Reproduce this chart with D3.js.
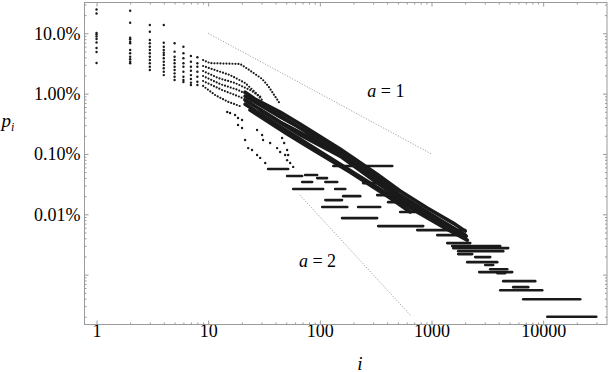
<!DOCTYPE html>
<html>
<head>
<meta charset="utf-8">
<script src="https://cdn.jsdelivr.net/npm/d3@7"></script>
<style>
	body { margin: 0; background: #fff; }
	svg { display: block; font-family: 'Liberation Serif', 'Times New Roman', serif; }
</style>
</head>
<body>
<svg id="chart" width="608" height="372"></svg>
<script>
// Rangs 1..8 : une colonne de points par rang (p en fraction)
const firstRanks = [1, 2, 3, 4, 5, 6, 7, 8];
const firstColumns = [
	[0.248, 0.213, 0.101, 0.0955, 0.0885, 0.0804, 0.0703, 0.057, 0.049, 0.0321],
	[0.237, 0.15, 0.0845, 0.0795, 0.0726, 0.0683, 0.0528, 0.0466, 0.0409, 0.0371, 0.0338, 0.0318],
	[0.137, 0.106, 0.0774, 0.0683, 0.06, 0.0528, 0.0466, 0.0409, 0.036, 0.0318, 0.0279, 0.0246],
	[0.137, 0.0698, 0.06, 0.0528, 0.0477, 0.0437, 0.0385, 0.0338, 0.0298, 0.0263, 0.0231, 0.0203],
	[0.0683, 0.0496, 0.0409, 0.036, 0.0318, 0.0279, 0.0246, 0.0217, 0.0191, 0.0168],
	[0.06, 0.0466, 0.0385, 0.0318, 0.0279, 0.0231, 0.0191, 0.0168, 0.0156],
	[0.0421, 0.0338, 0.0279, 0.024, 0.0203, 0.0175, 0.0152, 0.0139],
	[0.04, 0.0318, 0.0279, 0.0231, 0.0191, 0.0157, 0.0139]
];

// Séries encore clairsemées (i ~ 9..45), lues comme des traînées de points [i, p]
const trackT1 = [[9, 0.036], [10.4, 0.032], [19.3, 0.031], [21.9, 0.0266], [26.3, 0.0211], [30.4, 0.0175], [34.4, 0.0134], [38.9, 0.0095], [44.1, 0.0067]];
const trackT2 = [[9, 0.0287], [11.5, 0.0246], [15.7, 0.0203], [21.4, 0.015], [26.3, 0.0106], [30.4, 0.0078]];
const trackT3 = [[9, 0.0237], [12.3, 0.0181], [17.4, 0.015], [23.7, 0.0115], [30.4, 0.0085]];
const trackT4 = [[9, 0.0196], [12.8, 0.0144], [18.5, 0.0115], [24.7, 0.0088]];
const trackT5 = [[9, 0.0162], [13.3, 0.0115], [19.3, 0.0088], [23.7, 0.0073]];
const trackT6 = [[9, 0.0134], [11.5, 0.0095], [15.1, 0.0073], [19.3, 0.0062]];

// Points isolés sous le faisceau
const sparseI = [14.8, 15.7, 17.4, 18.5, 20.1, 18.5, 20.1, 21.4, 22.8, 24.7, 27.4, 29.2, 32.4,
	27.4, 30.4, 31, 35.9, 41.4, 44.1, 48.9, 50.9, 54.2, 57.7,
	45.9, 47.9, 50.9, 52];
const sparseP = [0.00495, 0.00477, 0.00442, 0.00394, 0.00365, 0.00302, 0.00269, 0.0017, 0.00125, 0.00116, 0.00096, 0.00086, 0.00071,
	0.00249, 0.00206, 0.0017, 0.00152, 0.00125, 0.00108, 0.00096, 0.00079, 0.00071, 0.00061,
	0.00184, 0.00152, 0.00116, 0.00096];

// Faisceau dense (points qui se touchent) : séries [i, p]
const bandB1 = [[21.4, 0.0106], [26.3, 0.0081], [44.1, 0.00495], [66.6, 0.00313], [152, 0.00121], [326, 0.00046], [524, 0.000243], [916, 0.000127], [1564, 0.0000715], [2004, 0.0000526]];
const bandB2 = [[21.4, 0.0091], [44.1, 0.0041], [101, 0.00177], [230, 0.00068], [524, 0.000208], [1197, 0.00008], [2004, 0.0000452]];
const bandB3 = [[21.4, 0.0078], [44.1, 0.00338], [101, 0.00152], [230, 0.000583], [524, 0.000172], [1197, 0.0000688], [2004, 0.0000403]];
const bandB4 = [[21.4, 0.0067], [50.9, 0.0024], [124, 0.000856], [282, 0.000329], [644, 0.000127], [1327, 0.000059], [2089, 0.0000373]];
const bandB5 = [[23.7, 0.00535], [50.9, 0.00214], [76.9, 0.00135], [187, 0.0005], [426, 0.000186], [644, 0.000109]];
const bandB6 = [[23.7, 0.0088], [66.6, 0.0027], [187, 0.00079], [524, 0.000193], [1470, 0.000059], [2046, 0.0000435]];
const bandB7 = [[29.2, 0.00535], [66.6, 0.00206], [152, 0.000923], [347, 0.000305], [792, 0.000117], [1630, 0.0000507]];

// Paliers (même p sur des rangs consécutifs) : p, premier rang, dernier rang
const runP = [0.000562, 0.00043, 0.000447, 0.000262, 0.000342, 0.000398, 0.000342, 0.000262, 0.000172, 0.0002,
	0.000132, 0.000132, 0.0000865, 0.0000637, 0.00063, 0.000329, 0.000208, 0.000159, 0.000109, 0.0000547,
	0.0000452, 0.0000333, 0.0000297, 0.0000275, 0.0000245, 0.0000219, 0.0000195, 0.0000161, 0.0000144, 0.0000123,
	0.000011, 0.0000106, 0.0000078, 0.0000062, 0.0000055, 0.0000039, 0.000002];
const runStart = [34.4, 50.9, 73.8, 57.7, 69.4, 94.6, 112, 137, 112, 162,
	105, 220, 158, 333, 132, 244, 326, 409, 524, 745,
	1125, 1383, 1532, 1564, 1734, 1734, 2462, 2089, 3027, 3355,
	2675, 3880, 4390, 5395, 4125, 6625, 10890];
const runEnd = [52, 69.4, 94.6, 107, 85.3, 116, 143, 169, 158, 230,
	176, 347, 326, 843, 445, 326, 454, 524, 843, 2004,
	1923, 2221, 4125, 4865, 4390, 2315, 3355, 3880, 3570, 4765,
	5285, 4575, 8490, 7350, 9815, 21480, 29900];

// Droites de référence p ~ 1/i^a
const lineA1 = [[10, 0.1], [1000, 0.001]];
const lineA2 = [[66, 0.00021], [650, 0.0000021]];
const refLabels = [{ a: 1, i: 266, p: 0.0088 }, { a: 2, i: 65, p: 0.0000133 }];

// Graduations
const xMajor = [1, 10, 100, 1000, 10000];
const xLabels = ['1', '10', '100', '1000', '10000'];
const yMajor = [0.1, 0.01, 0.001, 0.0001, 0.00001];
const yLabels = ['10.0%', '1.00%', '0.10%', '0.01%', ''];

const svg = d3.select('#chart');
const frameColor = '#9a9a9a';
const dotColor = '#1a1a1a';

const x = d3.scaleLog().domain([0.78, 37300]).range([84.5, 607]);
const y = d3.scaleLog().domain([1.49e-6, 0.324]).range([324.5, 2.5]);

// graduations secondaires 2..9 par décade
const minorTicks = (scale, e0, e1) => {
	const out = [];
	const [lo, hi] = scale.domain();
	for (let e = e0; e <= e1; e++) {
		for (let k = 2; k <= 9; k++) {
			const v = k * Math.pow(10, e);
			if (v > lo && v < hi) out.push(v);
		}
	}
	return out;
};

const styleAxis = (g) => {
	g.select('.domain').remove();
	g.selectAll('line').attr('stroke', frameColor);
	g.selectAll('text').attr('fill', '#000').attr('font-size', '18px').attr('font-family', "'Liberation Serif', serif");
};

// Axes (ticks vers l'intérieur, comme un cadre)
svg.append('g').attr('transform', 'translate(0,324.5)')
	.call(d3.axisBottom(x).tickValues(xMajor).tickFormat((d, k) => xLabels[k]).tickSize(-4).tickPadding(0))
	.call(styleAxis);
svg.append('g').attr('transform', 'translate(0,324.5)')
	.call(d3.axisBottom(x).tickValues(minorTicks(x, 0, 4)).tickFormat('').tickSize(-2))
	.call(styleAxis);
svg.append('g').attr('transform', 'translate(0,2.5)')
	.call(d3.axisTop(x).tickValues(xMajor).tickFormat('').tickSize(-4))
	.call(styleAxis);
svg.append('g').attr('transform', 'translate(0,2.5)')
	.call(d3.axisTop(x).tickValues(minorTicks(x, 0, 4)).tickFormat('').tickSize(-2))
	.call(styleAxis);

svg.append('g').attr('transform', 'translate(84.5,0)')
	.call(d3.axisLeft(y).tickValues(yMajor).tickFormat((d, k) => yLabels[k]).tickSize(-4).tickPadding(4))
	.call(styleAxis);
svg.append('g').attr('transform', 'translate(84.5,0)')
	.call(d3.axisLeft(y).tickValues(minorTicks(y, -6, -1)).tickFormat('').tickSize(-2))
	.call(styleAxis);
svg.append('g').attr('transform', 'translate(607,0)')
	.call(d3.axisRight(y).tickValues(yMajor).tickFormat('').tickSize(-4))
	.call(styleAxis);
svg.append('g').attr('transform', 'translate(607,0)')
	.call(d3.axisRight(y).tickValues(minorTicks(y, -6, -1)).tickFormat('').tickSize(-2))
	.call(styleAxis);

// Cadre
svg.append('rect')
	.attr('x', 84.5).attr('y', 2.5)
	.attr('width', 607 - 84.5).attr('height', 322)
	.attr('fill', 'none').attr('stroke', frameColor);

const line = d3.line().x((d) => x(d[0])).y((d) => y(d[1]));

// Droites de référence en pointillé
svg.selectAll('path.ref')
	.data([lineA1, lineA2])
	.enter()
	.append('path')
	.attr('class', 'ref')
	.attr('d', line)
	.attr('fill', 'none')
	.attr('stroke', '#8a8a8a')
	.attr('stroke-width', 0.8)
	.attr('stroke-dasharray', '1.2 1.6');

// Colonnes des premiers rangs
const firstPoints = firstRanks.flatMap((r, k) => firstColumns[k].map((p) => [r, p]));
svg.append('g')
	.selectAll('circle')
	.data(firstPoints)
	.enter()
	.append('circle')
	.attr('cx', (d) => x(d[0]))
	.attr('cy', (d) => y(d[1]))
	.attr('r', 1.2)
	.attr('fill', dotColor);

// Traînées de points
svg.append('g')
	.selectAll('path')
	.data([trackT1, trackT2, trackT3, trackT4, trackT5, trackT6])
	.enter()
	.append('path')
	.attr('d', line)
	.attr('fill', 'none')
	.attr('stroke', dotColor)
	.attr('stroke-width', 2.2)
	.attr('stroke-linecap', 'round')
	.attr('stroke-dasharray', '0 3');

// Points isolés
svg.append('g')
	.selectAll('circle')
	.data(sparseI.map((v, k) => [v, sparseP[k]]))
	.enter()
	.append('circle')
	.attr('cx', (d) => x(d[0]))
	.attr('cy', (d) => y(d[1]))
	.attr('r', 1.2)
	.attr('fill', dotColor);

// Faisceau dense
svg.append('g')
	.selectAll('path')
	.data([bandB1, bandB2, bandB3, bandB4, bandB5, bandB6, bandB7])
	.enter()
	.append('path')
	.attr('d', line)
	.attr('fill', 'none')
	.attr('stroke', dotColor)
	.attr('stroke-width', 3.6)
	.attr('stroke-linejoin', 'round')
	.attr('stroke-linecap', 'round');

// Paliers horizontaux
svg.append('g')
	.selectAll('line')
	.data(runP.map((p, k) => ({ p, i0: runStart[k], i1: runEnd[k] })))
	.enter()
	.append('line')
	.attr('x1', (d) => x(d.i0))
	.attr('x2', (d) => x(d.i1))
	.attr('y1', (d) => y(d.p))
	.attr('y2', (d) => y(d.p))
	.attr('stroke', dotColor)
	.attr('stroke-width', 2.6)
	.attr('stroke-linecap', 'round');

// Étiquettes a = 1, a = 2
const lab = svg.selectAll('text.ref')
	.data(refLabels)
	.enter()
	.append('text')
	.attr('class', 'ref')
	.attr('x', (d) => x(d.i))
	.attr('y', (d) => y(d.p))
	.attr('font-size', '18px');
lab.append('tspan').attr('font-style', 'italic').text('a');
lab.append('tspan').text((d) => ' = ' + d.a);

// Titres des axes
svg.append('text')
	.attr('x', 360).attr('y', 369.5)
	.attr('text-anchor', 'middle')
	.attr('font-size', '19px')
	.attr('font-style', 'italic')
	.text('i');

const pLab = svg.append('text').attr('x', 1.5).attr('y', 127).attr('font-size', '19px').attr('font-style', 'italic');
pLab.append('tspan').text('p');
pLab.append('tspan').attr('font-size', '12px').attr('dy', 4).text('i');
</script>
</body>
</html>
